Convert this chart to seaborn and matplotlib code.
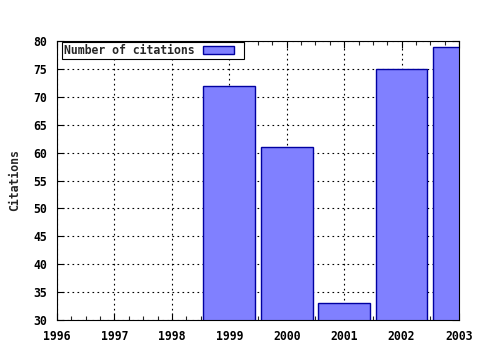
import matplotlib
matplotlib.use("Agg")
import matplotlib.pyplot as plt
import seaborn as sns
import pandas as pd
from matplotlib.ticker import MultipleLocator
from matplotlib.legend_handler import HandlerPatch
from matplotlib.patches import Rectangle

years = [1999, 2000, 2001, 2002, 2003]
citations = [72, 61, 33, 75, 79]
x_ticks = [1996, 1997, 1998, 1999, 2000, 2001, 2002, 2003]
y_ticks = [30, 35, 40, 45, 50, 55, 60, 65, 70, 75, 80]

sns.set_style("white")
plt.rcParams['font.family'] = ['DejaVu Sans Mono']
plt.rcParams['font.weight'] = 'bold'

df = pd.DataFrame({"year": years, "citations": citations})

fig = plt.figure(figsize=(4.8, 3.5), dpi=100)
ax = fig.add_axes([57/480, 1-320/350, (459-57)/480, (320-41)/350])

sns.barplot(data=df, x="year", y="citations", native_scale=True, width=0.9,
            color="#8080ff", saturation=1, edgecolor="#0000a0", linewidth=1.0,
            label="Number of citations", ax=ax)

ax.set_xlim(1996, 2003)
ax.set_ylim(30, 80)
ax.set_xticks(x_ticks)
ax.set_xticklabels([str(v) for v in x_ticks], fontsize=8.3, fontweight='bold')
ax.set_yticks(y_ticks)
ax.set_yticklabels([str(v) for v in y_ticks], fontsize=8.3, fontweight='bold')
ax.xaxis.set_minor_locator(MultipleLocator(0.25))
ax.tick_params(axis='both', which='major', direction='in', length=5, width=0.8,
               top=True, right=True, bottom=True, left=True, colors='black')
ax.tick_params(axis='x', which='major', pad=7.5)
ax.tick_params(axis='y', which='major', pad=7)
ax.tick_params(axis='x', which='minor', direction='in', length=3, width=0.8,
               top=True, bottom=True)
ax.set_xlabel("")
ax.set_ylabel("Citations", fontsize=8.3, fontweight='bold', labelpad=9)

ax.grid(True, which='major', color='black', linestyle=(0, (1.5, 3)), linewidth=0.8)
ax.set_axisbelow(True)
for s in ax.spines.values():
    s.set_color('black')
    s.set_linewidth(0.8)
    s.set_visible(True)


def make_rect(legend, orig_handle, xdescent, ydescent, width, height, fontsize):
    return Rectangle((-xdescent, -ydescent), width * 0.79, height)


handles, labels = ax.get_legend_handles_labels()
h0 = handles[0].patches[0] if hasattr(handles[0], "patches") else handles[0]
leg = ax.legend([h0], labels, loc='upper left', bbox_to_anchor=(0.012, 0.995),
                borderaxespad=0, markerfirst=False,
                fancybox=False, framealpha=1, edgecolor='black', handlelength=3.4,
                handleheight=0.7, borderpad=0.15, handletextpad=0.8,
                handler_map={Rectangle: HandlerPatch(patch_func=make_rect)},
                prop={'family': 'DejaVu Sans Mono', 'weight': 'bold', 'size': 8.3})
leg.get_frame().set_linewidth(0.8)

fig.savefig("out.png", dpi=100)
